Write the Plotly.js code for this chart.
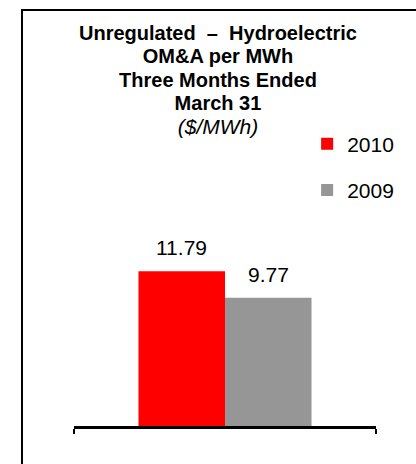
<!DOCTYPE html>
<html>
<head>
<meta charset="utf-8">
<script src="https://cdn.plot.ly/plotly-3.0.1.min.js"></script>
<style>html,body{margin:0;padding:0;background:#fff;overflow:hidden;}#chart{width:416px;height:464px;}</style>
</head>
<body>
<div id="chart"></div>
<script>
// Data
const categories = ["Three Months Ended March 31"];
const seriesNames = ["2010", "2009"];
const values2010 = [11.79];
const values2009 = [9.77];
const seriesColors = ["#FF0000", "#969696"];
const titleLines = ["Unregulated  \u2013  Hydroelectric", "OM&amp;A per MWh", "Three Months Ended", "March 31"];
const unitLine = "($/MWh)";

const FONT = "Liberation Sans, Arial, sans-serif";
const seriesValues = [values2010, values2009];

const W = 416, H = 464;
const margin = {l: 74, r: 40, t: 229, b: 38, pad: 0};
const bargap = 0.427;
const plotW = W - margin.l - margin.r;

const traces = seriesNames.map((name, i) => ({
  type: "bar", name: name, x: categories, y: seriesValues[i],
  marker: {color: seriesColors[i]}, legendgroup: "g" + i, hoverinfo: "skip"
}));

// value labels above each bar, positioned from the data and the bar layout
const nSeries = seriesNames.length;
const barPx = plotW * (1 - bargap) / nSeries;
const annotations = [];
seriesValues.forEach((vals, i) => {
  vals.forEach((v, j) => {
    annotations.push({
      xref: "x", yref: "y", x: categories[j], y: v,
      xshift: (i - (nSeries - 1) / 2) * barPx,
      yanchor: "bottom", yshift: 10, showarrow: false,
      text: v.toFixed(2), font: {family: FONT, size: 21, color: "#000"}
    });
  });
});

const titleText = titleLines.map(t => "<span style=\"font-size:20px\"><b>" + t + "</b></span>").join("<br>") +
  "<br><span style=\"font-size:21px\"><i>" + unitLine + "</i></span>";

const layout = {
  width: W, height: H,
  margin: margin,
  paper_bgcolor: "#fff", plot_bgcolor: "#fff",
  font: {family: FONT, color: "#000"},
  title: {
    text: titleText,
    font: {family: FONT, size: 18, color: "#000"},
    xref: "container", x: 0.524, xanchor: "center",
    yref: "container", y: 0.914, yanchor: "top"
  },
  barmode: "group",
  bargap: bargap,
  bargroupgap: 0,
  showlegend: true,
  legend: {
    xref: "paper", yref: "paper",
    x: 0.772, xanchor: "left", y: 1.535, yanchor: "top",
    traceorder: "grouped", tracegroupgap: 16,
    font: {family: FONT, size: 21, color: "#000"},
    bgcolor: "rgba(0,0,0,0)", borderwidth: 0,
    itemwidth: 30
  },
  annotations: annotations,
  xaxis: {
    type: "category", showticklabels: false, showgrid: false, zeroline: false,
    showline: true, linecolor: "#000", linewidth: 2.5,
    ticks: "outside", tickson: "boundaries", ticklen: 5, tickwidth: 1.2, tickcolor: "#000"
  },
  yaxis: {
    range: [0, 15], visible: false, showgrid: false, zeroline: false
  },
  shapes: [
    {type: "line", xref: "paper", yref: "paper", x0: -0.1722, x1: -0.1722, y0: 2.1117, y1: -0.25, line: {color: "#000", width: 2}},
    {type: "line", xref: "paper", yref: "paper", x0: -0.1755, x1: 1.14, y0: 2.1117, y1: 2.1117, line: {color: "#000", width: 2}}
  ]
};

Plotly.newPlot("chart", traces, layout, {displayModeBar: false, staticPlot: true});
</script>
</body>
</html>
